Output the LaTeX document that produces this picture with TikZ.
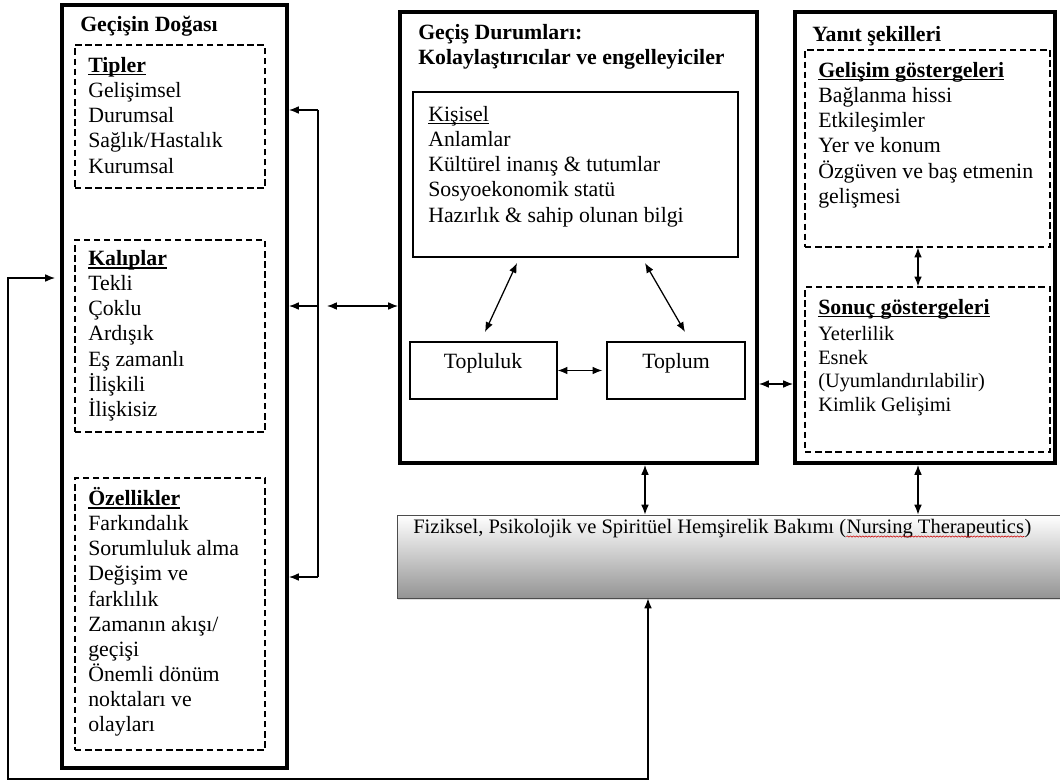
\documentclass[tikz,border=0pt]{standalone}
\usepackage{fontspec}
\setmainfont{Liberation Serif}
\usetikzlibrary{positioning,fit,arrows.meta,shadows,decorations.pathmorphing}
\newcommand{\ulhead}[1]{\setbox0\hbox{#1}\rlap{\rule[-2.2pt]{\wd0}{0.8pt}}\box0}
\tikzset{
  thickbox/.style={draw, line width=2.8pt, inner sep=0pt},
  dashbox/.style={draw, line width=0.9pt, dash pattern=on 4.6pt off 2.6pt, inner sep=0pt},
  thinbox/.style={draw, line width=0.9pt, inner sep=0pt},
  txt/.style={anchor=north west, inner sep=0pt, align=left, font=\fontsize{15.5}{17.9}\selectfont},
  head/.style={txt, font=\fontsize{15.5}{17.9}\selectfont\bfseries},
  small/.style={txt, font=\fontsize{14.5}{16.9}\selectfont},
  bartxt/.style={anchor=base west, inner sep=0pt, font=\fontsize{14.6}{16.5}\selectfont},
  barbox/.style={draw=black!70, line width=0.6pt, inner sep=0pt, top color=white,
    bottom color=black!42, drop shadow={opacity=0.25, shadow xshift=1pt, shadow yshift=-1.5pt}},
  link/.style={line width=0.9pt, >={Latex[length=7pt,width=5.5pt]}},
  spell/.style={red!80!black, line width=0.4pt, decorate,
    decoration={snake, amplitude=0.45pt, segment length=2.2pt}},
}
\begin{document}
\begin{tikzpicture}[x=0.025cm, y=-0.025cm]
\useasboundingbox (0,0) rectangle (1060,782);

% nature of transition
\node[thickbox, fit={(62,5) (287,768)}] (nature) {};
\node[head] (natureT) at (80,16) {Geçişin Doğası};
\node[dashbox, fit={(75,45) (265,188)}] (types) {};
\node[txt] (typesT) at (88,57) {\textbf{\ulhead{Tipler}}\\Gelişimsel\\Durumsal\\Sağlık/Hastalık\\Kurumsal};
\node[dashbox, fit={(75,240) (265,432)}] (patterns) {};
\node[txt] (patternsT) at (88,250) {\textbf{\ulhead{Kalıplar}}\\Tekli\\Çoklu\\Ardışık\\Eş zamanlı\\İlişkili\\İlişkisiz};
\node[dashbox, fit={(75,478) (265,750)}] (props) {};
\node[txt] (propsT) at (88,487) {\textbf{\ulhead{Özellikler}}\\Farkındalık\\Sorumluluk alma\\Değişim ve\\farklılık\\Zamanın akışı/\\geçişi\\Önemli dönüm\\noktaları ve\\olayları};

% transition conditions
\node[thickbox, fit={(400,12) (757,463)}] (middle) {};
\node[head] (middleT) at (418,24) {Geçiş Durumları:\\Kolaylaştırıcılar ve engelleyiciler};
\node[thinbox, fit={(413,92) (738,257)}] (personal) {};
\node[txt] (personalT) at (428,106) {\ulhead{Kişisel}\\Anlamlar\\Kültürel inanış \& tutumlar\\Sosyoekonomik statü\\Hazırlık \& sahip olunan bilgi};
\node[thinbox, fit={(410,342) (557,399)}] (comm) {};
\node[txt, anchor=north] (commT) at (483,353) {Topluluk};
\node[thinbox, fit={(607,342) (745,399)}] (soc) {};
\node[txt, anchor=north] (socT) at (676,353) {Toplum};

% patterns of response
\node[thickbox, fit={(795,12) (1055,463)}] (response) {};
\node[head] (responseT) at (812,26) {Yanıt şekilleri};
\node[dashbox, fit={(805,50) (1050,247)}] (devel) {};
\node[txt] (develT) at (818,62) {\textbf{\ulhead{Gelişim göstergeleri}}\\Bağlanma hissi\\Etkileşimler\\Yer ve konum\\Özgüven ve baş etmenin\\gelişmesi};
\node[dashbox, fit={(805,287) (1050,452)}] (outcome) {};
\node[txt] (outcomeT) at (818,299) {\textbf{\ulhead{Sonuç göstergeleri}}};
\node[small] (outcomeL) at (818,326) {Yeterlilik\\Esnek\\(Uyumlandırılabilir)\\Kimlik Gelişimi};

% nursing therapeutics
\node[barbox, fit={(397,515) (1064,598)}] (care) {};
\node[bartxt] (careA) at (413,533) {Fiziksel, Psikolojik ve Spiritüel Hemşirelik Bakımı (};
\node[bartxt] (careB) at (careA.base east) {Nursing Therapeutics};
\node[bartxt] (careC) at (careB.base east) {)};
\draw[spell] ([yshift=-2.5pt]careB.base west) -- ([yshift=-2.5pt]careB.base east);

% connectors
\coordinate (busA) at (318,110);
\coordinate (busB) at (318,306);
\coordinate (busC) at (318,577);
\coordinate (busD) at (327,306);
\draw[link] (busA) -- (busC);
\draw[link,->] (busA) -- (nature.east |- busA);
\draw[link,->] (busB) -- (nature.east |- busB);
\draw[link,->] (busC) -- (nature.east |- busC);
\draw[link,<->] (busD) -- (middle.west |- busD);

\coordinate (loopA) at (8,278);
\coordinate (loopB) at (8,779);
\coordinate (loopC) at (648,779);
\draw[link,<->] (care.south -| loopC) -- (loopC) -- (loopB) -- (loopA)
  -- ([xshift=-0.125cm]nature.west |- loopA);

\coordinate (kA) at (517,263);
\coordinate (kB) at (485,332);
\coordinate (kC) at (645,263);
\coordinate (kD) at (685,332);
\draw[link,<->] (kA) -- (kB);
\draw[link,<->] (kC) -- (kD);
\draw[link,<->] (comm.east) -- ([xshift=-0.1cm]soc.west);

\coordinate (mr) at (0,384);
\draw[link,<->] (middle.east |- mr) -- (response.west |- mr);
\coordinate (dnA) at (645,0);
\coordinate (dnB) at (918,0);
\draw[link,<->] (middle.south -| dnA) -- (care.north -| dnA);
\draw[link,<->] (response.south -| dnB) -- (care.north -| dnB);
\draw[link,<->] (devel.south -| dnB) -- (outcome.north -| dnB);
\end{tikzpicture}
\end{document}
